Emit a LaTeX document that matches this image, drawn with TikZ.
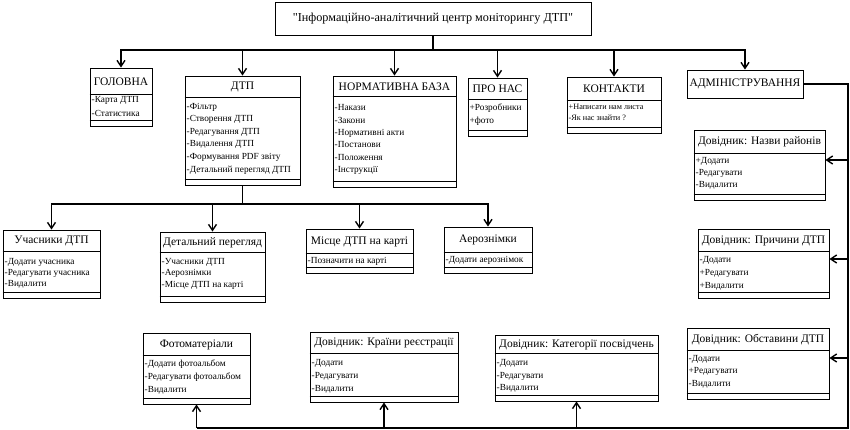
\documentclass[tikz,border=0pt]{standalone}
\usepackage{fontspec}
\setmainfont{Liberation Serif}
\usetikzlibrary{arrows.meta,fit}
\tikzset{
  x=1pt, y=-1pt,
  clsbox/.style={draw, line width=0.8pt, inner sep=0pt},
  hdr/.style={font=\fontsize{11.5}{13}\selectfont, inner sep=0pt},
  itm/.style={font=\fontsize{9.3}{11}\selectfont, inner sep=0pt, anchor=west},
  sepline/.style={line width=0.8pt},
  conn/.style={line width=1.4pt},
  arr/.style={line width=1.4pt, -{Straight Barb[length=6pt,width=8pt]}},
}
\newcommand\smallitm{\fontsize{8.2}{10}\selectfont}
% #1 name, #2 x1, #3 y1, #4 x2, #5 y2, #6 ysep, #7 header, #8 items (y/text)
\newcommand\umlcls[8]{%
  \node[clsbox, fit={(#2,#3) (#4,#5)}] (#1) {};
  \node[hdr] at ({(#2+#4)/2},{(#3+#6)/2+0.5}) {#7};
  \draw[sepline] (#1.west |- {#2},{#6}) -- (#1.east |- {#2},{#6});
  \draw[sepline] (#1.west |- {#2},{#5-6}) -- (#1.east |- {#2},{#5-6});
  \foreach \yy/\itx in {#8} {\node[itm] at ({#2+1.5},\yy) {\itx};}
}
\begin{document}
\begin{tikzpicture}
\useasboundingbox (0,0) rectangle (850,430);
% title
\node[clsbox, fit={(275,2) (591,35)}] (title) {};
\node[font=\fontsize{12.2}{14}\selectfont, inner sep=0pt] at (title.center) {\textquotedbl Інформаційно-аналітичний центр моніторингу ДТП\textquotedbl};
% first level
\umlcls{golovna}{90}{68}{152}{126}{94}{ГОЛОВНА}{100/-Карта ДТП, 113/-Статистика}
\umlcls{dtp}{185}{76}{300}{185}{97}{ДТП}{107/-Фільтр, 119.5/-Створення ДТП, 132/-Редагування ДТП, 144.5/-Видалення ДТП, 157/-Формування PDF звіту, 170/-Детальний перегляд ДТП}
\umlcls{norm}{333}{76}{456}{187}{96}{НОРМАТИВНА БАЗА}{108/-Накази, 120.5/-Закони, 133/-Нормативні акти, 145/-Постанови, 157.5/-Положення, 170/-Інструкції}
\umlcls{pronas}{468}{78}{527}{136}{99}{ПРО НАС}{108/+Розробники, 121/+фото}
\umlcls{kontakty}{567}{77}{661}{133}{100}{КОНТАКТИ}{107/{\smallitm +Написати нам листа}, 118/{\smallitm -Як нас знайти ?}}
\node[clsbox, fit={(687,70) (803,98)}] (admin) {};
\node[hdr] at (admin.center) {АДМІНІСТРУВАННЯ};
% second level
\umlcls{uch}{3}{230}{100}{298}{251}{Учасники ДТП}{262/-Додати учасника, 273/-Редагувати учасника, 284/-Видалити}
\umlcls{det}{160}{232}{265}{302}{252}{Детальний перегляд}{262/-Учасники ДТП, 273.5/-Аерознімки, 285/-Місце ДТП на карті}
\umlcls{misce}{306}{229}{413}{273}{253}{Місце ДТП на карті}{261/-Позначити на карті}
\umlcls{aero}{444}{227}{532}{273}{252}{Аерознімки}{260/-Додати аерознімок}
% right column
\umlcls{rayony}{694}{130}{825}{200}{153}{Довідник: Назви районів}{161/+Додати, 173/-Редагувати, 185/-Видалити}
\umlcls{prych}{698}{229}{829}{298}{251}{Довідник: Причини ДТП}{260/-Додати, 273/+Редагувати, 286/+Видалити}
\umlcls{obst}{687}{328}{829}{399}{350}{Довідник: Обставини ДТП}{359/-Додати, 371.5/+Редагувати, 384/-Видалити}
% bottom row
\umlcls{kateg}{495}{335}{658}{401}{353}{Довідник: Категорії посвідчень}{363/-Додати, 376/-Редагувати, 388.5/-Видалити}
\umlcls{krainy}{310}{332}{458}{402}{353}{Довідник: Країни реєстрації}{363/-Додати, 376/-Редагувати, 389/-Видалити}
\umlcls{foto}{143}{333}{250}{404}{355}{Фотоматеріали}{364/-Додати фотоальбом, 377/-Редагувати фотоальбом, 390/-Видалити}
% connectors: top level
\coordinate (bus) at (title.south |- 0,50);
\draw[conn] (title.south) -- (bus);
\foreach \n in {golovna,dtp,norm,pronas,kontakty,admin}
  \draw[arr] (bus) -| (\n.north);
% second level
\coordinate (bus2) at (dtp.south |- 0,204);
\draw[conn] (dtp.south) -- (bus2);
\foreach \n in {uch,det,misce,aero}
  \draw[arr] (bus2) -| (\n.north);
% administration branch
\coordinate (rt) at (admin.east -| 848,0);
\coordinate (rb) at (848,428);
\draw[conn] (admin.east) -- (rt) -- (rb) -- (rb -| foto.south);
\draw[arr] (rt |- 0,160) -- (rayony.east |- 0,160);
\draw[arr] (rt |- 0,259) -- (prych.east |- 0,259);
\draw[arr] (rt |- 0,358) -- (obst.east |- 0,358);
\foreach \n in {foto,krainy,kateg}
  \draw[arr] (rb -| \n.south) -- (\n.south);
\end{tikzpicture}
\end{document}
